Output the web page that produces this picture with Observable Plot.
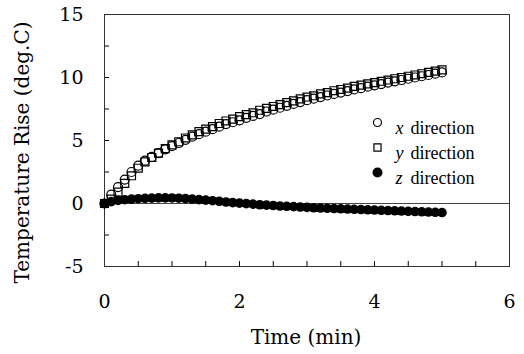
<!DOCTYPE html>
<html><head><meta charset="utf-8">
<script src="https://cdn.jsdelivr.net/npm/d3@7"></script>
<script src="https://cdn.jsdelivr.net/npm/@observablehq/plot@0.6"></script>
<style>body{margin:0;background:#fff}</style>
</head><body><div id="chart"></div>
<script>
const time = [0,0.1,0.2,0.3,0.4,0.5,0.6,0.7,0.8,0.9,1.0,1.1,1.2,1.3,1.4,1.5,1.6,1.7,1.8,1.9,2.0,2.1,2.2,2.3,2.4,2.5,2.6,2.7,2.8,2.9,3.0,3.1,3.2,3.3,3.4,3.5,3.6,3.7,3.8,3.9,4.0,4.1,4.2,4.3,4.4,4.5,4.6,4.7,4.8,4.9,5.0];
const xDir = [0,0.7,1.3,1.9,2.5,3.0,3.4,3.7,4.0,4.3,4.55,4.8,5.05,5.3,5.5,5.7,5.9,6.1,6.3,6.45,6.6,6.8,6.95,7.1,7.3,7.45,7.6,7.75,7.9,8.05,8.2,8.32,8.45,8.57,8.7,8.8,8.92,9.05,9.15,9.27,9.38,9.48,9.6,9.7,9.8,9.9,10.0,10.1,10.2,10.3,10.4];
const yDir = [0,0.35,0.9,1.6,2.2,2.8,3.3,3.65,4.0,4.35,4.65,4.9,5.2,5.45,5.7,5.9,6.1,6.35,6.55,6.7,6.9,7.05,7.2,7.4,7.55,7.7,7.85,8.0,8.15,8.3,8.45,8.55,8.7,8.8,8.95,9.05,9.15,9.3,9.4,9.5,9.6,9.7,9.8,9.9,10.0,10.1,10.2,10.3,10.4,10.5,10.6];
const zDir = [0,0.15,0.25,0.3,0.35,0.38,0.41,0.43,0.45,0.45,0.44,0.42,0.39,0.35,0.31,0.27,0.22,0.17,0.12,0.07,0.03,-0.01,-0.05,-0.1,-0.13,-0.16,-0.2,-0.22,-0.25,-0.28,-0.31,-0.34,-0.36,-0.38,-0.4,-0.42,-0.44,-0.46,-0.48,-0.5,-0.52,-0.54,-0.56,-0.58,-0.6,-0.62,-0.64,-0.66,-0.68,-0.7,-0.72];
const xTicks = [0,0.5,1,1.5,2,2.5,3,3.5,4,4.5,5,5.5,6];
const xTickLabels = [0,2,4,6];
const yTicks = [-5,-2.5,0,2.5,5,7.5,10,12.5,15];
const yTickLabels = [-5,0,5,10,15];
const seriesLetters = ["x","y","z"];
const legendWord = "direction";
const xTitle = "Time (min)";
const yTitle = "Temperature Rise (deg.C)";

const rows = (vals) => time.map((t, i) => ({t, v: vals[i]}));
const serif = "DejaVu Serif";
const legendFont = "Liberation Serif, Times New Roman, serif";
const legendStyles = [
  {symbol: "circle", r: 4, fill: "none", stroke: "black", strokeWidth: 1.2},
  {symbol: "square", r: 4, fill: "none", stroke: "black", strokeWidth: 1.2},
  {symbol: "circle", r: 5, fill: "black", stroke: "none"}
];

const legendMarks = seriesLetters.flatMap((letter, i) => [
  Plot.dot([letter], {frameAnchor: "top-left", dx: 273, dy: 108 + i * 25, ...legendStyles[i]}),
  Plot.text([letter], {frameAnchor: "top-left", dx: 291, dy: 107 + i * 25, text: d => d, textAnchor: "start", fontFamily: legendFont, fontStyle: "italic", fontSize: 18}),
  Plot.text([legendWord], {frameAnchor: "top-left", dx: 306, dy: 107 + i * 25, text: d => d, textAnchor: "start", fontFamily: legendFont, fontSize: 18})
]);

const chart = Plot.plot({
  width: 524,
  height: 354,
  marginLeft: 104,
  marginRight: 15,
  marginTop: 14,
  marginBottom: 88,
  style: {fontFamily: serif, fontSize: "19px", color: "black", background: "white"},
  x: {domain: [0, 6], axis: null},
  y: {domain: [-5, 15], axis: null},
  marks: [
    Plot.ruleY([0], {stroke: "#444", strokeWidth: 1}),
    Plot.axisX(xTicks, {anchor: "bottom", tickSize: 5, dy: -5, tickFormat: () => "", label: null}),
    Plot.axisX(xTickLabels, {anchor: "bottom", tickSize: 0, tickPadding: 28, label: null, fontSize: 19, tickFormat: d => String(d)}),
    Plot.axisY(yTicks, {anchor: "left", tickSize: 5, dx: 5, tickFormat: () => "", label: null}),
    Plot.axisY(yTickLabels, {anchor: "left", tickSize: 0, tickPadding: 21, label: null, fontSize: 19, tickFormat: d => String(d)}),
    Plot.frame({stroke: "#333", strokeWidth: 1}),
    Plot.dot(rows(xDir), {x: "t", y: "v", r: 4.5, symbol: "circle", fill: "none", stroke: "black", strokeWidth: 1.2}),
    Plot.dot(rows(yDir), {x: "t", y: "v", r: 4.5, symbol: "square", fill: "none", stroke: "black", strokeWidth: 1.2}),
    Plot.dot(rows(zDir), {x: "t", y: "v", r: 4.8, symbol: "circle", fill: "black", stroke: "none"}),
    Plot.text([xTitle], {frameAnchor: "bottom", dy: 77, dx: -1, text: d => d, fontSize: 20}),
    Plot.text([yTitle], {frameAnchor: "left", dx: -82, dy: 12, rotate: -90, textAnchor: "middle", text: d => d, fontSize: 20}),
    ...legendMarks
  ]
});
document.getElementById("chart").append(chart);
</script>
</body></html>
